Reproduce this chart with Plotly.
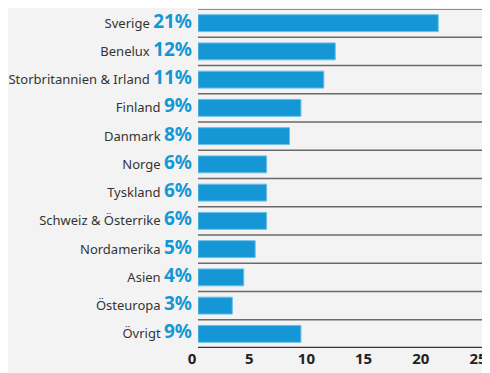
import plotly.graph_objects as go

categories = ["Sverige", "Benelux", "Storbritannien & Irland", "Finland", "Danmark",
              "Norge", "Tyskland", "Schweiz & Österrike", "Nordamerika", "Asien",
              "Östeuropa", "Övrigt"]
values = [21, 12, 11, 9, 8, 6, 6, 6, 5, 4, 3, 9]
x_ticks = [0, 5, 10, 15, 20, 25]

BLUE = "#1597d5"
BG = "#f3f3f3"

n = len(categories)
pos = list(range(n))
ticktext = [f"{c} <span style='font-size:19px;color:{BLUE};font-weight:bold'>{v}%</span>"
            for c, v in zip(categories, values)]

fig = go.Figure(go.Bar(
    x=values, y=pos, orientation="h", width=0.6,
    marker=dict(color=BLUE, line=dict(color="#6fc0ea", width=1)),
    hoverinfo="skip",
))

shapes = []
for k in range(n):
    b = k - 0.5
    shapes.append(dict(type="line", xref="paper", x0=0, x1=1, yref="y", y0=b, y1=b,
                       line=dict(color="#6a6a6a", width=1.5), layer="above"))
bot = n - 0.5
shapes.append(dict(type="line", xref="paper", x0=0, x1=1, yref="y", y0=bot, y1=bot,
                   line=dict(color="#333333", width=2.5), layer="above"))

# page body adds an 8px offset; size/margins compensate for it
fig.update_layout(
    width=482, height=365,
    margin=dict(l=190, r=6, t=1, b=25, pad=0),
    paper_bgcolor=BG, plot_bgcolor=BG,
    font=dict(family="Noto Sans", color="#333333"),
    shapes=shapes,
    showlegend=False,
    bargap=0.4,
)
fig.update_yaxes(
    tickvals=pos, ticktext=ticktext, range=[n - 0.5, -0.5],
    showgrid=False, zeroline=False, showline=False, ticks="",
    tickfont=dict(size=13, color="#333333", family="Noto Sans"),
    ticklabelstandoff=5, automargin=False, ticklabeloverflow="allow",
)
fig.update_xaxes(
    range=[0, 25], tickvals=x_ticks, ticktext=[f"<b>{t}</b>" for t in x_ticks],
    showgrid=False, zeroline=False, showline=False, ticks="",
    tickfont=dict(size=15, color="#222222", family="Noto Sans"),
    ticklabelshift=-6, ticklabelstandoff=0, automargin=False, ticklabeloverflow="allow",
)

fig.write_html("out.html")
